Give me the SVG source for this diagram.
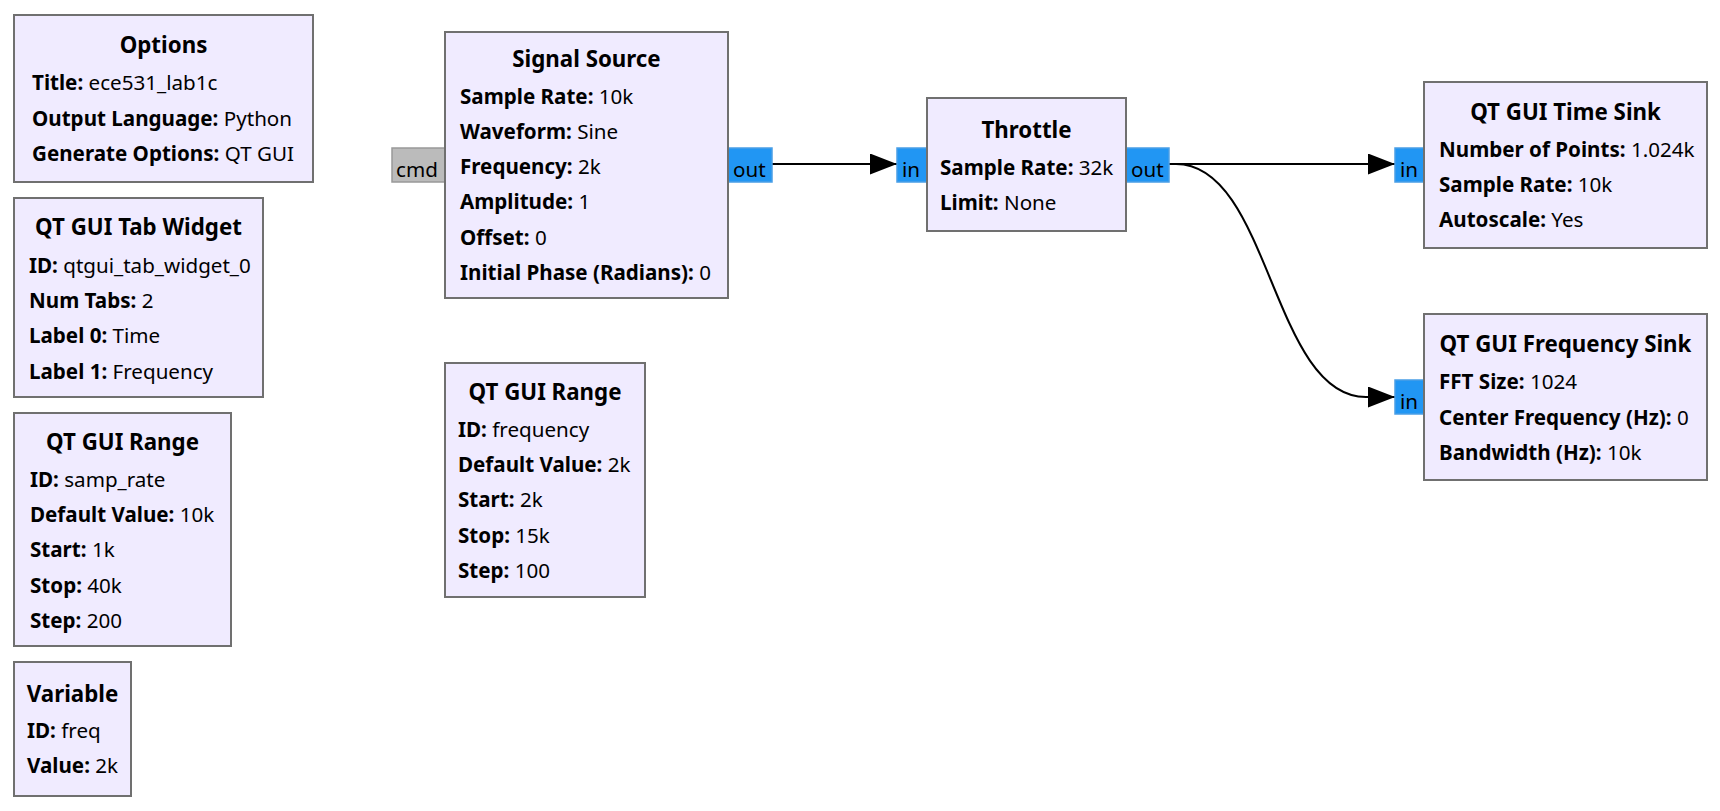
<svg xmlns="http://www.w3.org/2000/svg" width="1720" height="811" viewBox="0 0 1720 811">
<style>
  .blk { fill: #f0ebff; stroke: #707070; stroke-width: 2; }
  .t { font-family: "Noto Sans", "Open Sans", sans-serif; font-size: 20.6px; fill: #000; }
  .ttl { font-weight: bold; text-anchor: middle; font-size: 22.3px; }
  .b { font-weight: bold; }
  .port { fill: #2196f3; stroke: #4a9ee6; stroke-width: 1.5; }
  .cmd { fill: #bbbbbb; stroke: #999999; stroke-width: 1.5; }
  .pt { font-family: "Noto Sans", "Open Sans", sans-serif; font-size: 20.6px; fill: #000; }
  .con { fill: none; stroke: #000; stroke-width: 2; marker-end: url(#arr); }
</style>
<defs>
  <marker id="arr" markerUnits="userSpaceOnUse" viewBox="0 0 27 21" markerWidth="27" markerHeight="21" refX="27" refY="10.5" orient="auto">
    <path d="M0,0 L27,10.5 L0,21 z" fill="#000"/>
  </marker>
</defs>
<rect width="1720" height="811" fill="#ffffff"/>

<g id="connectors">
  <path class="con" d="M772,164 L897,164"/>
  <path class="con" d="M1169,164 L1395,164"/>
  <path class="con" d="M1169,164 L1176,164 C1270,164 1272,397 1366,397 L1395,397"/>
</g>

<g id="options">
  <rect class="blk" x="14" y="15" width="299" height="167"/>
  <text class="t ttl" x="163.5" y="53">Options</text>
  <text class="t" x="32" y="90"><tspan class="b">Title: </tspan>ece531_lab1c</text>
  <text class="t" x="32" y="126"><tspan class="b">Output Language: </tspan>Python</text>
  <text class="t" x="32" y="161"><tspan class="b">Generate Options: </tspan>QT GUI</text>
</g>

<g id="tab_widget">
  <rect class="blk" x="14" y="198" width="249" height="199"/>
  <text class="t ttl" x="138.5" y="235">QT GUI Tab Widget</text>
  <text class="t" x="29" y="273"><tspan class="b">ID: </tspan>qtgui_tab_widget_0</text>
  <text class="t" x="29" y="308"><tspan class="b">Num Tabs: </tspan>2</text>
  <text class="t" x="29" y="343"><tspan class="b">Label 0: </tspan>Time</text>
  <text class="t" x="29" y="379"><tspan class="b">Label 1: </tspan>Frequency</text>
</g>

<g id="range_samp_rate">
  <rect class="blk" x="14" y="413" width="217" height="233"/>
  <text class="t ttl" x="122.5" y="450">QT GUI Range</text>
  <text class="t" x="30" y="487"><tspan class="b">ID: </tspan>samp_rate</text>
  <text class="t" x="30" y="522"><tspan class="b">Default Value: </tspan>10k</text>
  <text class="t" x="30" y="557"><tspan class="b">Start: </tspan>1k</text>
  <text class="t" x="30" y="593"><tspan class="b">Stop: </tspan>40k</text>
  <text class="t" x="30" y="628"><tspan class="b">Step: </tspan>200</text>
</g>

<g id="variable_freq">
  <rect class="blk" x="14" y="662" width="117" height="134"/>
  <text class="t ttl" x="72.5" y="702">Variable</text>
  <text class="t" x="27" y="738"><tspan class="b">ID: </tspan>freq</text>
  <text class="t" x="27" y="773"><tspan class="b">Value: </tspan>2k</text>
</g>

<g id="signal_source">
  <rect class="cmd" x="392" y="148" width="53" height="34"/>
  <text class="pt" x="396" y="177">cmd</text>
  <rect class="port" x="728" y="148" width="44" height="34"/>
  <text class="pt" x="733" y="177">out</text>
  <rect class="blk" x="445" y="32" width="283" height="266"/>
  <text class="t ttl" x="586.5" y="67">Signal Source</text>
  <text class="t" x="460" y="104"><tspan class="b">Sample Rate: </tspan>10k</text>
  <text class="t" x="460" y="139"><tspan class="b">Waveform: </tspan>Sine</text>
  <text class="t" x="460" y="174"><tspan class="b">Frequency: </tspan>2k</text>
  <text class="t" x="460" y="209"><tspan class="b">Amplitude: </tspan>1</text>
  <text class="t" x="460" y="245"><tspan class="b">Offset: </tspan>0</text>
  <text class="t" x="460" y="280"><tspan class="b">Initial Phase (Radians): </tspan>0</text>
</g>

<g id="range_frequency">
  <rect class="blk" x="445" y="363" width="200" height="234"/>
  <text class="t ttl" x="545" y="400">QT GUI Range</text>
  <text class="t" x="458" y="437"><tspan class="b">ID: </tspan>frequency</text>
  <text class="t" x="458" y="472"><tspan class="b">Default Value: </tspan>2k</text>
  <text class="t" x="458" y="507"><tspan class="b">Start: </tspan>2k</text>
  <text class="t" x="458" y="543"><tspan class="b">Stop: </tspan>15k</text>
  <text class="t" x="458" y="578"><tspan class="b">Step: </tspan>100</text>
</g>

<g id="throttle">
  <rect class="port" x="897" y="148" width="30" height="34"/>
  <text class="pt" x="902" y="177">in</text>
  <rect class="port" x="1126" y="148" width="43" height="34"/>
  <text class="pt" x="1131" y="177">out</text>
  <rect class="blk" x="927" y="98" width="199" height="133"/>
  <text class="t ttl" x="1026.5" y="138">Throttle</text>
  <text class="t" x="940" y="175"><tspan class="b">Sample Rate: </tspan>32k</text>
  <text class="t" x="940" y="210"><tspan class="b">Limit: </tspan>None</text>
</g>

<g id="time_sink">
  <rect class="port" x="1395" y="148" width="29" height="34"/>
  <text class="pt" x="1400" y="177">in</text>
  <rect class="blk" x="1424" y="82" width="283" height="166"/>
  <text class="t ttl" x="1565.5" y="120">QT GUI Time Sink</text>
  <text class="t" x="1439" y="157"><tspan class="b">Number of Points: </tspan>1.024k</text>
  <text class="t" x="1439" y="192"><tspan class="b">Sample Rate: </tspan>10k</text>
  <text class="t" x="1439" y="227"><tspan class="b">Autoscale: </tspan>Yes</text>
</g>

<g id="freq_sink">
  <rect class="port" x="1395" y="380" width="29" height="34"/>
  <text class="pt" x="1400" y="409">in</text>
  <rect class="blk" x="1424" y="314" width="283" height="166"/>
  <text class="t ttl" x="1565.5" y="352">QT GUI Frequency Sink</text>
  <text class="t" x="1439" y="389"><tspan class="b">FFT Size: </tspan>1024</text>
  <text class="t" x="1439" y="425"><tspan class="b">Center Frequency (Hz): </tspan>0</text>
  <text class="t" x="1439" y="460"><tspan class="b">Bandwidth (Hz): </tspan>10k</text>
</g>
</svg>
